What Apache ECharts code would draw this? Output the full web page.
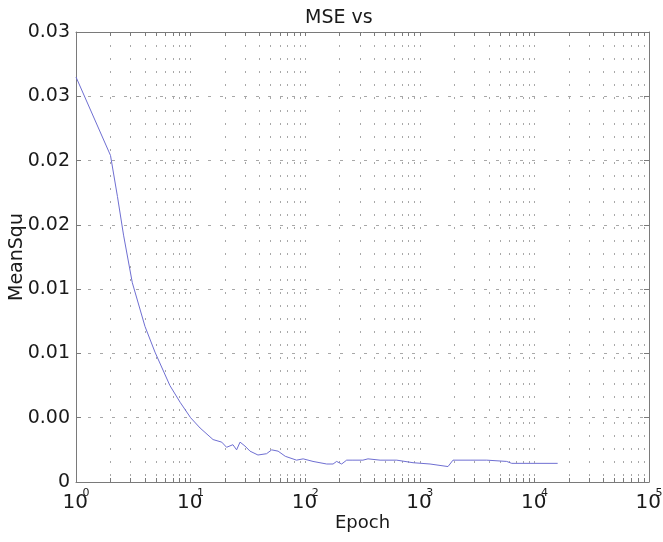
<!DOCTYPE html>
<html>
<head>
<meta charset="utf-8">
<script src="https://cdn.jsdelivr.net/npm/echarts@6/dist/echarts.min.js"></script>
<style>
html,body{margin:0;padding:0;background:#fff;}
#chart{width:663px;height:542px;}
</style>
</head>
<body>
<div id="chart"></div>
<script>
// ---- data ----
const epochs = [1, 2, 2.3, 2.6, 3.1, 4, 4.89, 6.6, 8.1, 10, 12.1, 15.7, 18.7, 20.6, 23.4, 25.2, 27, 29.8, 33, 38.7, 46, 51, 58, 67, 84, 96, 117, 154, 175, 188, 208, 230, 261, 319, 353, 450, 629, 873, 1228, 1762, 1949, 2744, 3836, 5731, 6339, 9157, 15960];
const mseValues = [0.0315, 0.0254, 0.0222, 0.0192, 0.0155, 0.0121, 0.0101, 0.0075, 0.0062, 0.0050, 0.0042, 0.0033, 0.0031, 0.0027, 0.0029, 0.0025, 0.0031, 0.0028, 0.0024, 0.0021, 0.0022, 0.0025, 0.0024, 0.0020, 0.0017, 0.0018, 0.0016, 0.0014, 0.0014, 0.0016, 0.0014, 0.0017, 0.0017, 0.0017, 0.0018, 0.0017, 0.0017, 0.0015, 0.0014, 0.0012, 0.0017, 0.0017, 0.0017, 0.0016, 0.00145, 0.00145, 0.00145];
const xDecades = [1, 10, 100, 1000, 10000, 100000];
const yTickLabels = ['0', '0.00', '0.01', '0.01', '0.02', '0.02', '0.03', '0.03'];
const titleText = 'MSE vs';
const xName = 'Epoch';
const yName = 'MeanSqu';

// grid tick positions (1..9 per decade)
const xGridTicks = [];
for (let d = 0; d < xDecades.length - 1; d++) {
  for (let k = 1; k <= 9; k++) xGridTicks.push(k * xDecades[d]);
}
xGridTicks.push(xDecades[xDecades.length - 1]);

const seriesData = epochs.map((e, i) => [e, mseValues[i]]);

const FONT = 'DejaVu Sans';
const TXT = '#1a1a1a';
const AX = '#7a7a7a';
const GRIDC = '#a8a8a8';

const chart = echarts.init(document.getElementById('chart'), null, {renderer: 'canvas'});
const option = {
  backgroundColor: '#ffffff',
  animation: false,
  title: {
    text: titleText, left: 300, top: 4,
    textStyle: {fontFamily: FONT, fontSize: 19, fontWeight: 'normal', color: TXT}
  },
  grid: {left: 76, right: 14, top: 32, bottom: 60, containLabel: false, outerBoundsMode: 'none'},
  xAxis: [
    {
      type: 'log', logBase: 10, min: 1, max: 100000, position: 'bottom',
      name: xName, nameLocation: 'middle', nameGap: 32, nameMoveOverlap: false,
      nameTextStyle: {fontFamily: FONT, fontSize: 18, color: TXT, verticalAlign: 'top'},
      axisLine: {show: true, onZero: false, lineStyle: {color: AX, width: 1}},
      axisTick: {show: true, inside: true, length: 4, customValues: xGridTicks, lineStyle: {color: AX}},
      axisLabel: {
        customValues: xDecades, margin: 6, color: TXT,
        formatter: function (v) { return '{b|10}{s|' + Math.round(Math.log10(v)) + '}'; },
        rich: {
          b: {fontFamily: FONT, fontSize: 20, color: TXT, lineHeight: 22, width: 20, align: 'left', padding: [7, 0, 0, 0]},
          s: {fontFamily: FONT, fontSize: 11, color: TXT, lineHeight: 12, verticalAlign: 'top'}
        }
      },
      splitLine: {show: true, lineStyle: {color: GRIDC, width: 1, type: [2, 11]}}
    },
    {
      type: 'log', logBase: 10, min: 1, max: 100000, position: 'top',
      axisLine: {show: true, onZero: false, lineStyle: {color: AX, width: 1}},
      axisTick: {show: true, inside: true, length: 4, customValues: xGridTicks, lineStyle: {color: AX}},
      axisLabel: {show: false},
      splitLine: {show: false}
    }
  ],
  yAxis: [
    {
      type: 'value', min: 0, max: 0.035, interval: 0.005, position: 'left',
      name: yName, nameLocation: 'middle', nameGap: 49, nameMoveOverlap: false,
      nameTextStyle: {fontFamily: FONT, fontSize: 19, color: TXT},
      axisLine: {show: true, onZero: false, lineStyle: {color: AX, width: 1}},
      axisTick: {show: true, inside: true, length: 5, lineStyle: {color: AX}},
      axisLabel: {
        margin: 6, fontFamily: FONT, fontSize: 19, color: TXT,
        formatter: function (v) { return yTickLabels[Math.round(v / 0.005)]; }
      },
      splitLine: {show: true, lineStyle: {color: GRIDC, width: 1, type: [3, 9]}}
    },
    {
      type: 'value', min: 0, max: 0.035, interval: 0.005, position: 'right',
      axisLine: {show: true, onZero: false, lineStyle: {color: AX, width: 1}},
      axisTick: {show: true, inside: true, length: 5, lineStyle: {color: AX}},
      axisLabel: {show: false},
      splitLine: {show: false}
    }
  ],
  series: [{
    type: 'line', xAxisIndex: 0, yAxisIndex: 0,
    data: seriesData, showSymbol: false, symbol: 'none', smooth: false,
    lineStyle: {color: '#6f6fd2', width: 1}
  }]
};
chart.setOption(option);
</script>
</body>
</html>
